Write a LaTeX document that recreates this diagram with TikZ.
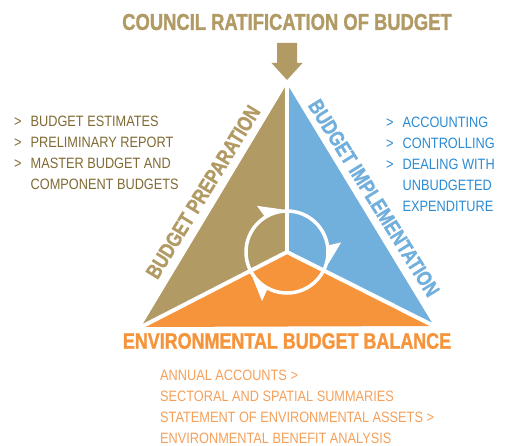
\documentclass[tikz,border=0pt]{standalone}
\usepackage{fontspec}
\usetikzlibrary{calc,positioning}

\newfontfamily\headfont[FakeStretch=0.8, BoldFeatures={FakeBold=1.2}]{Liberation Sans}
\newfontfamily\listfont[FakeStretch=0.85]{Liberation Sans}

\definecolor{tanfill}{HTML}{B19A64}
\definecolor{tantext}{HTML}{7F6A33}
\definecolor{bluefill}{HTML}{71AFDC}
\definecolor{bluetext}{HTML}{2B8BD3}
\definecolor{orangefill}{HTML}{F5943B}
\definecolor{orangetext}{HTML}{F5A05A}

\begin{document}
\begin{tikzpicture}[
    x=1pt, y=1pt,
    heading/.style={
        font=\headfont\bfseries\fontsize{23}{26}\selectfont,
        inner sep=0pt
    },
    sidelabel/.style={
        font=\headfont\bfseries\fontsize{21.3}{24}\selectfont,
        inner sep=0pt
    },
    itemlist/.style={
        font=\listfont\fontsize{15}{21}\selectfont,
        inner sep=0pt,
        anchor=west
    },
    divider/.style={draw=white, line width=4pt},
    cycle line/.style={draw=white, line width=3.5pt}
]
\useasboundingbox (0,0) rectangle (511,-446);

% Title
\node [heading, text=tanfill] (council) at (287,-22) {COUNCIL RATIFICATION OF BUDGET};

% Corners of the triangle
\coordinate (apex) at (287,-84);
\coordinate (left) at (141,-327);
\coordinate (right) at (434,-326);
\coordinate (hub) at (287,-252);

% Down arrow
\coordinate (tip) at (287,-80);
\fill [tanfill] ($(tip)+(-10,37)$) -- ($(tip)+(10,37)$) -- ($(tip)+(10,17)$)
    -- ($(tip)+(15.5,17)$) -- (tip) -- ($(tip)+(-15.5,17)$) -- ($(tip)+(-10,17)$) -- cycle;

% Three sectors
\fill [tanfill] (apex) -- (hub) -- (left) -- cycle;
\fill [bluefill] (apex) -- (hub) -- (right) -- cycle;
\fill [orangefill] (left) -- (hub) -- (right) -- cycle;
\draw [divider] (hub) -- (apex);
\draw [divider] (hub) -- (left);
\draw [divider] (hub) -- (right);

% Cycle
\draw [cycle line] (hub) circle (41);
\foreach \a in {110,-3,230}
    \fill [white] ($(hub)+(\a-13:43)$) -- ($(hub)+(\a+12:40)$) -- ($(hub)+(\a+13:55)$) -- cycle;

% Side labels
\node [sidelabel, text=tanfill, rotate=58.5] (prep) at (203,-192) {BUDGET PREPARATION};
\node [sidelabel, text=bluefill, rotate=-58] (impl) at (374,-198) {BUDGET IMPLEMENTATION};
\node [heading, text=orangefill, font=\headfont\bfseries\fontsize{22.4}{25}\selectfont] (balance) at (287,-341) {ENVIRONMENTAL BUDGET BALANCE};

% Lists
\node [itemlist, text=tantext] (prep list) at (14,-154) {%
    \begin{tabular}{@{}l@{\hspace{9pt}}l@{}}
        > & BUDGET ESTIMATES\\
        > & PRELIMINARY REPORT\\
        > & MASTER BUDGET AND\\
          & COMPONENT BUDGETS
    \end{tabular}};

\node [itemlist, text=bluetext] (impl list) at (386,-165) {%
    \begin{tabular}{@{}l@{\hspace{9pt}}l@{}}
        > & ACCOUNTING\\
        > & CONTROLLING\\
        > & DEALING WITH\\
          & UNBUDGETED\\
          & EXPENDITURE
    \end{tabular}};

\node [itemlist, text=orangetext] (balance list) at (160,-408) {%
    \begin{tabular}{@{}l@{}}
        ANNUAL ACCOUNTS >\\
        SECTORAL AND SPATIAL SUMMARIES\\
        STATEMENT OF ENVIRONMENTAL ASSETS >\\
        ENVIRONMENTAL BENEFIT ANALYSIS
    \end{tabular}};

\end{tikzpicture}
\end{document}
